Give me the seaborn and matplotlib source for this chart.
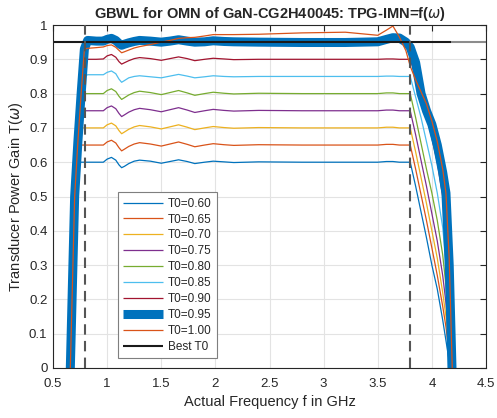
import numpy as np
import pandas as pd
import matplotlib
matplotlib.use("Agg")
import matplotlib.pyplot as plt
import seaborn as sns

# =================== DATA ===================

# frequency grid in GHz (rise, ripple band, roll-off)
freq = [0.64, 0.70, 0.73, 0.76, 0.79,
        0.82, 0.90, 0.965, 1.00, 1.04, 1.08, 1.11, 1.134, 1.16, 1.20,
        1.25, 1.30, 1.40, 1.50, 1.58, 1.66, 1.74, 1.81, 1.90, 1.98,
        2.08, 2.17, 2.40, 2.80, 3.20, 3.50, 3.58, 3.64, 3.70, 3.76,
        3.80, 3.85, 3.90, 3.95, 4.00, 4.05, 4.10, 4.13, 4.16, 4.19, 4.22]

t060 = [-0.25, 0.50, 0.60, 0.60, 0.60,
        0.600, 0.600, 0.600, 0.609, 0.614, 0.606, 0.592, 0.584, 0.588, 0.596,
        0.603, 0.606, 0.603, 0.597, 0.602, 0.607, 0.602, 0.596, 0.600, 0.603,
        0.601, 0.599, 0.601, 0.600, 0.600, 0.600, 0.602, 0.602, 0.600, 0.600,
        0.60, 0.53, 0.455, 0.38, 0.30, 0.23, 0.14, 0.08, 0.02, -0.05, -0.12]
t065 = [-0.25, 0.50, 0.65, 0.65, 0.65,
        0.650, 0.650, 0.650, 0.659, 0.664, 0.656, 0.642, 0.633, 0.638, 0.646,
        0.653, 0.657, 0.653, 0.647, 0.653, 0.659, 0.652, 0.645, 0.650, 0.654,
        0.651, 0.649, 0.651, 0.650, 0.650, 0.650, 0.652, 0.652, 0.650, 0.650,
        0.65, 0.58, 0.505, 0.43, 0.35, 0.27, 0.18, 0.12, 0.04, -0.05, -0.14]
t070 = [-0.25, 0.50, 0.66, 0.70, 0.70,
        0.700, 0.700, 0.700, 0.709, 0.714, 0.706, 0.692, 0.683, 0.688, 0.696,
        0.703, 0.707, 0.703, 0.697, 0.703, 0.709, 0.702, 0.695, 0.700, 0.704,
        0.701, 0.699, 0.701, 0.700, 0.700, 0.700, 0.702, 0.702, 0.700, 0.700,
        0.70, 0.63, 0.555, 0.48, 0.40, 0.32, 0.22, 0.15, 0.07, -0.05, -0.16]
t075 = [-0.25, 0.50, 0.66, 0.75, 0.75,
        0.750, 0.750, 0.750, 0.759, 0.764, 0.756, 0.742, 0.733, 0.738, 0.746,
        0.753, 0.757, 0.753, 0.747, 0.753, 0.759, 0.752, 0.745, 0.750, 0.754,
        0.751, 0.749, 0.751, 0.750, 0.750, 0.750, 0.752, 0.752, 0.750, 0.750,
        0.75, 0.68, 0.605, 0.53, 0.45, 0.37, 0.27, 0.19, 0.09, -0.05, -0.18]
t080 = [-0.25, 0.50, 0.66, 0.80, 0.80,
        0.800, 0.800, 0.800, 0.809, 0.814, 0.806, 0.792, 0.783, 0.788, 0.796,
        0.803, 0.807, 0.803, 0.797, 0.803, 0.809, 0.802, 0.795, 0.800, 0.804,
        0.801, 0.799, 0.801, 0.800, 0.800, 0.800, 0.802, 0.802, 0.800, 0.800,
        0.80, 0.73, 0.655, 0.58, 0.51, 0.43, 0.33, 0.24, 0.12, -0.05, -0.20]
t085 = [-0.25, 0.50, 0.66, 0.80, 0.85,
        0.855, 0.855, 0.855, 0.862, 0.866, 0.858, 0.842, 0.833, 0.838, 0.846,
        0.850, 0.852, 0.849, 0.846, 0.851, 0.856, 0.851, 0.846, 0.849, 0.852,
        0.850, 0.849, 0.850, 0.850, 0.850, 0.850, 0.851, 0.851, 0.850, 0.850,
        0.85, 0.79, 0.73, 0.66, 0.59, 0.51, 0.41, 0.31, 0.16, -0.05, -0.24]
t090 = [-0.25, 0.50, 0.66, 0.80, 0.90,
        0.900, 0.900, 0.901, 0.910, 0.914, 0.906, 0.893, 0.886, 0.890, 0.896,
        0.902, 0.905, 0.902, 0.897, 0.902, 0.907, 0.902, 0.896, 0.900, 0.903,
        0.901, 0.899, 0.900, 0.900, 0.900, 0.900, 0.901, 0.901, 0.900, 0.900,
        0.90, 0.85, 0.80, 0.74, 0.67, 0.60, 0.50, 0.40, 0.20, -0.05, -0.28]
t095 = [-0.25, 0.50, 0.66, 0.80, 0.93,
        0.955, 0.953, 0.953, 0.958, 0.961, 0.955, 0.946, 0.941, 0.944, 0.948,
        0.952, 0.955, 0.953, 0.950, 0.953, 0.957, 0.953, 0.950, 0.951, 0.954,
        0.952, 0.951, 0.950, 0.949, 0.949, 0.951, 0.958, 0.963, 0.962, 0.950,
        0.935, 0.89, 0.80, 0.75, 0.71, 0.65, 0.57, 0.51, 0.30, -0.05, -0.40]
t100 = [-0.25, 0.50, 0.66, 0.80, 0.93,
        0.932, 0.934, 0.936, 0.940, 0.942, 0.935, 0.926, 0.919, 0.922, 0.927,
        0.933, 0.937, 0.943, 0.950, 0.955, 0.961, 0.963, 0.964, 0.968, 0.972,
        0.972, 0.972, 0.973, 0.977, 0.979, 0.970, 0.985, 0.997, 0.965, 0.925,
        0.88, 0.84, 0.805, 0.77, 0.72, 0.66, 0.58, 0.51, 0.32, -0.02, -0.40]

series = [t060, t065, t070, t075, t080, t085, t090, t095, t100]
labels = ["T0=0.60", "T0=0.65", "T0=0.70", "T0=0.75", "T0=0.80",
          "T0=0.85", "T0=0.90", "T0=0.95", "T0=1.00"]

best_t0 = 0.95
best_freq = [0.5, 4.18]
band_edges = [0.8, 3.8]

# matlab default colour order
colors = ["#0072BD", "#D95319", "#EDB120", "#7E2F8E", "#77AC30",
          "#4DBEEE", "#A2142F", "#0072BD", "#D95319"]

# =================== PLOT ===================

sns.set_theme(style="white")
plt.rcParams["font.family"] = ["Liberation Sans", "DejaVu Sans"]
plt.rcParams["mathtext.fontset"] = "dejavusans"
plt.rcParams["lines.solid_capstyle"] = "butt"

fig = plt.figure(figsize=(4.97, 4.18), dpi=100)
ax = fig.add_axes([53 / 497, 50 / 418, 433 / 497, 343 / 418])

for vals, lab, col in zip(series, labels, colors):
    lw = 6.5 if lab == "T0=0.95" else 0.9
    sns.lineplot(x=freq, y=vals, ax=ax, color=col, linewidth=lw,
                 label=lab, sort=False, estimator=None)

sns.lineplot(x=best_freq, y=[best_t0, best_t0], ax=ax, color="#1a1a1a",
             linewidth=1.5, label="Best T0", sort=False, estimator=None)
ax.plot([best_freq[-1], 4.5], [best_t0, best_t0], color="#8c8c8c", lw=1.5)

for fe in band_edges:
    ax.plot([fe, fe], [0, 1], color="#555555", lw=1.5,
            linestyle=(0, (5, 3)), zorder=5)

ax.set_xlim(0.5, 4.5)
ax.set_ylim(0, 1)
ax.set_xticks(np.arange(0.5, 4.51, 0.5))
ax.set_yticks(np.arange(0, 1.01, 0.1))
ax.set_xticklabels(["0.5", "1", "1.5", "2", "2.5", "3", "3.5", "4", "4.5"])
ax.set_yticklabels(["0", "0.1", "0.2", "0.3", "0.4", "0.5", "0.6", "0.7",
                    "0.8", "0.9", "1"])

ax.grid(True, color="#e3e3e3", lw=0.8)
ax.set_axisbelow(True)
for sp in ax.spines.values():
    sp.set_color("#262626")
    sp.set_linewidth(0.8)
ax.tick_params(direction="in", length=4, width=0.8, colors="#262626",
               labelsize=9.5, top=True, right=True)
ax.tick_params(axis="x", pad=7)
ax.tick_params(axis="y", pad=4)

ax.set_xlabel("Actual Frequency f in GHz", fontsize=10.5, color="#262626",
              labelpad=4)
ax.set_ylabel(r"Transducer Power Gain T($\omega$)", fontsize=10.5,
              color="#262626", labelpad=3)
ax.set_title(r"GBWL for OMN of GaN-CG2H40045: TPG-IMN=f($\omega$)",
             fontsize=10.5, fontweight="bold", pad=5)

leg = ax.legend(loc="lower left", bbox_to_anchor=(0.150, 0.029),
                borderaxespad=0, fontsize=8.5, labelspacing=0.33,
                handlelength=3.4, handletextpad=0.35, borderpad=0.45,
                fancybox=False, framealpha=1, edgecolor="#7f7f7f")
leg.get_frame().set_linewidth(0.8)

fig.savefig("out.png", dpi=100)
